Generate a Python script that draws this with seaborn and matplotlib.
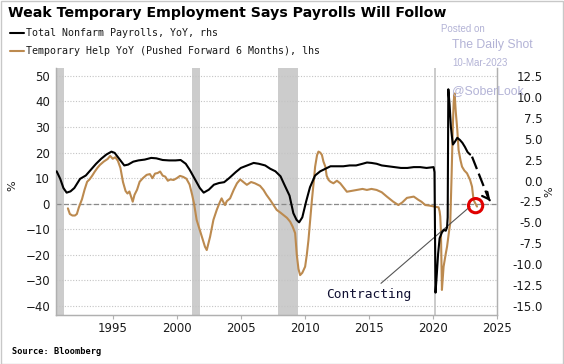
import pandas as pd
import matplotlib
matplotlib.use('Agg')
import matplotlib.pyplot as plt
import seaborn as sns
from matplotlib.lines import Line2D
from matplotlib.patches import Rectangle

# Total nonfarm payrolls, YoY % (right axis), decimal years
payroll_year = [1990.62, 1990.9, 1991.15, 1991.4, 1991.7, 1992.0, 1992.45, 1992.9, 1993.3, 1993.7,
                1994.1, 1994.5, 1994.9, 1995.15, 1995.5, 1995.9, 1996.2, 1996.6, 1997.0, 1997.5,
                1998.0, 1998.4, 1998.9, 1999.4, 1999.9, 2000.3, 2000.7, 2001.0, 2001.4, 2001.8,
                2002.1, 2002.5, 2002.9, 2003.3, 2003.7, 2004.1, 2004.6, 2005.0, 2005.5, 2006.0,
                2006.4, 2006.9, 2007.3, 2007.7, 2008.1, 2008.4, 2008.8, 2009.1, 2009.35, 2009.55,
                2009.8, 2010.1, 2010.4, 2010.8, 2011.2, 2011.6, 2012.0, 2012.5, 2013.0, 2013.5,
                2014.0, 2014.5, 2014.85, 2015.2, 2015.6, 2016.0, 2016.5, 2017.0, 2017.5, 2018.0,
                2018.5, 2019.0, 2019.5, 2020.05, 2020.12, 2020.2, 2020.3, 2020.4, 2020.52, 2020.7,
                2020.85, 2021.0, 2021.1, 2021.15, 2021.2, 2021.3, 2021.4, 2021.5, 2021.56, 2021.7,
                2021.9, 2022.1, 2022.3, 2022.5, 2022.7, 2022.9]
payroll_yoy = [1.1, 0.2, -0.9, -1.45, -1.3, -0.9, 0.2, 0.6, 1.3, 2.0,
               2.6, 3.1, 3.45, 3.3, 2.6, 1.8, 1.9, 2.25, 2.4, 2.5,
               2.7, 2.65, 2.45, 2.4, 2.4, 2.45, 2.0, 1.3, 0.2, -0.9,
               -1.45, -1.1, -0.5, -0.3, -0.2, 0.3, 1.0, 1.5, 1.8, 2.1,
               2.0, 1.8, 1.4, 1.1, 0.5, -0.5, -1.8, -3.9, -4.7, -5.0,
               -4.4, -2.5, -0.8, 0.6, 1.1, 1.4, 1.7, 1.7, 1.7, 1.8,
               1.8, 2.0, 2.15, 2.1, 2.0, 1.8, 1.7, 1.6, 1.5, 1.5,
               1.6, 1.6, 1.5, 1.6, 1.0, -13.4, -11.2, -8.8, -6.9, -6.2,
               -5.9, -6.0, -5.6, -4.4, 10.9, 9.0, 6.4, 5.0, 4.3, 4.6,
               5.1, 4.85, 4.5, 4.0, 3.4, 3.1]

# Temporary help YoY % pushed forward 6 months (left axis)
temp_year = [1991.5, 1991.65, 1991.85, 1992.05, 1992.2, 1992.35, 1992.6, 1992.8, 1993.0, 1993.2,
             1993.4, 1993.6, 1993.8, 1994.0, 1994.3, 1994.6, 1994.8, 1995.0, 1995.2, 1995.4,
             1995.6, 1995.8, 1996.0, 1996.15, 1996.3, 1996.45, 1996.56, 1996.7, 1996.9, 1997.1,
             1997.35, 1997.65, 1997.9, 1998.1, 1998.3, 1998.5, 1998.7, 1998.9, 1999.1, 1999.3,
             1999.5, 1999.75, 2000.0, 2000.25, 2000.5, 2000.75, 2001.0, 2001.2, 2001.35, 2001.55,
             2001.8, 2002.0, 2002.2, 2002.34, 2002.5, 2002.6, 2002.86, 2003.12, 2003.35, 2003.5,
             2003.65, 2003.77, 2003.9, 2004.16, 2004.45, 2004.7, 2004.95, 2005.2, 2005.47, 2005.8,
             2006.1, 2006.3, 2006.5, 2006.77, 2007.0, 2007.29, 2007.55, 2007.8, 2008.1, 2008.33,
             2008.6, 2008.85, 2009.05, 2009.24, 2009.37, 2009.5, 2009.63, 2009.8, 2010.02, 2010.15,
             2010.28, 2010.42, 2010.55, 2010.7, 2010.8, 2010.95, 2011.06, 2011.2, 2011.33, 2011.45,
             2011.6, 2011.7, 2011.85, 2012.0, 2012.23, 2012.5, 2012.76, 2013.0, 2013.28, 2013.6,
             2014.06, 2014.5, 2014.84, 2015.2, 2015.6, 2016.0, 2016.4, 2016.9, 2017.3, 2017.6,
             2017.97, 2018.3, 2018.5, 2018.87, 2019.1, 2019.4, 2019.7, 2019.92, 2020.2, 2020.44,
             2020.52, 2020.57, 2020.62, 2020.7, 2020.78, 2020.83, 2021.0, 2021.1, 2021.25, 2021.35,
             2021.45, 2021.55, 2021.62, 2021.69, 2021.78, 2021.9, 2022.0, 2022.15, 2022.27, 2022.45,
             2022.66, 2022.9, 2023.05, 2023.17, 2023.3, 2023.44]
temp_yoy = [-1.8, -4.0, -4.6, -4.6, -4.0, -1.5, 1.8, 5.5, 8.6, 9.6,
            11.0, 12.6, 14.0, 15.2, 16.5, 17.5, 18.7, 17.6, 18.2, 16.8,
            14.0, 8.5, 5.0, 4.0, 4.8, 2.5, 0.8, 3.5, 5.5, 8.6,
            10.0, 11.3, 11.6, 10.0, 11.8, 12.0, 12.6, 11.0, 10.6, 9.0,
            9.5, 9.3, 10.0, 10.9, 10.5, 9.8, 7.5, 3.5, 0.0, -6.3,
            -10.3, -13.5, -16.8, -18.1, -15.0, -12.9, -6.3, -2.4, 0.5, 2.1,
            0.5, -0.5, 1.0, 2.1, 5.5, 8.0, 9.5, 8.5, 7.4, 8.5,
            8.0, 7.5, 7.0, 5.4, 3.5, 1.5, -0.5, -2.4, -3.5, -4.4,
            -5.5, -7.0, -9.0, -11.5, -20.0, -25.5, -27.9, -27.0, -24.6, -20.0,
            -14.2, -6.0, 1.5, 9.0, 14.5, 19.0, 20.4, 20.0, 19.1, 16.5,
            14.5, 11.0, 9.3, 8.6, 8.0, 9.0, 8.0, 6.5, 4.7, 5.0,
            5.4, 5.8, 5.4, 5.8, 5.4, 4.5, 2.8, 0.8, -0.5, 0.5,
            2.3, 2.6, 2.8, 1.5, 0.8, -0.5, -0.7, -0.9, -1.2, -1.4,
            -3.0, -5.0, -10.3, -33.7, -28.0, -24.6, -19.5, -16.8, -11.0, -7.6,
            10.0, 30.0, 40.0, 43.1, 36.0, 28.9, 21.0, 17.0, 14.5, 13.0,
            11.9, 9.3, 6.7, 1.5, 0.2, -1.1]

recession_start = [1990.5, 2001.17, 2007.92, 2020.08]
recession_end = [1991.17, 2001.83, 2009.45, 2020.25]

payrolls = pd.DataFrame({'Year': payroll_year, 'YoY': payroll_yoy})
temps = pd.DataFrame({'Year': temp_year, 'YoY': temp_yoy})

BLACK = '#000000'
BROWN = '#bc8a4f'
WATERMARK = '#b3b3d6'

sns.set_style('white')
plt.rcParams['font.family'] = ['DejaVu Sans']

fig = plt.figure(figsize=(5.64, 3.64), dpi=100)
ax = fig.add_axes([56 / 564, 1 - 315 / 364, (497 - 56) / 564, (315 - 67.7) / 364])
ax2 = ax.twinx()

# recessions
for s, e in zip(recession_start, recession_end):
    ax.axvspan(s, e, color='#cccccc', lw=0, zorder=0)

ax.axhline(0, color='#8a8a8a', lw=0.9, ls=(0, (4, 2)), zorder=1)
sns.lineplot(data=temps, x='Year', y='YoY', ax=ax, color=BROWN, lw=1.5, zorder=3)
sns.lineplot(data=payrolls, x='Year', y='YoY', ax=ax2, color=BLACK, lw=1.5, zorder=3)

# left axis
ax.set_xlim(1990.57, 2025.0)
ax.set_ylim(-43.5, 53.2)
ax.set_yticks(range(-40, 51, 10))
ax.yaxis.grid(True, color='#c4c4c4', ls=(0, (1, 1.5)), lw=0.8)
ax.xaxis.grid(False)
ax.set_xticks(range(1995, 2026, 5))
ax.tick_params(axis='x', length=3, width=0.8, color='#b0b0b0', pad=2, labelsize=8.5, labelcolor='#1a1a1a',
               bottom=True)
ax.tick_params(axis='y', length=0, pad=4.3, labelsize=8.5, labelcolor='#1a1a1a')
ax.set_xlabel('')
ax.set_ylabel('')

# right axis: 12.5 lines up with 50, -15 with -40
ax2.set_ylim(12.5 + (-43.5 - 50) * 27.5 / 90, 12.5 + (53.2 - 50) * 27.5 / 90)
ax2.set_yticks([12.5, 10, 7.5, 5, 2.5, 0, -2.5, -5, -7.5, -10, -12.5, -15])
ax2.set_yticklabels(['%.1f' % v for v in ax2.get_yticks()])
ax2.tick_params(axis='y', length=0, pad=32.8, labelsize=8.5, labelcolor='#1a1a1a')
for lbl in ax2.get_yticklabels():
    lbl.set_horizontalalignment('right')
ax2.set_ylabel('')
ax2.grid(False)

for a in (ax, ax2):
    for side in ['left', 'right', 'bottom']:
        a.spines[side].set_color('#b0b0b0')
        a.spines[side].set_linewidth(0.9)
    a.spines['top'].set_visible(False)

# forecast arrow
ax2.plot([2023.05, 2024.35], [2.85, -2.2], color=BLACK, lw=1.6, ls=(0, (6, 2.2)), zorder=4)
ax2.annotate('', xy=(2024.62, -2.72), xytext=(2024.3, -2.1),
             arrowprops=dict(arrowstyle='->', color=BLACK, lw=1.6, mutation_scale=12), zorder=4)

# contracting callout
ax.annotate('Contracting', xy=(2022.9, -1.1), xytext=(2018.3, -35.3),
            ha='right', va='center', fontsize=9.3, family='DejaVu Sans Mono', color='#111133',
            arrowprops=dict(arrowstyle='-', color='#555555', lw=0.8, shrinkA=1, shrinkB=0))
ax.scatter([2023.33], [-0.74], s=105, facecolors='none', edgecolors='#e00000', linewidths=2.2, zorder=5)

# percent labels
fig.text(12 / 564, 1 - 186 / 364, '%', rotation=90, ha='center', va='center', fontsize=8, color='#1a1a1a')
fig.text(549 / 564, 1 - 192 / 364, '%', rotation=90, ha='center', va='center', fontsize=8, color='#1a1a1a')

# title and legend
fig.text(8 / 564, 1 - 13 / 364, 'Weak Temporary Employment Says Payrolls Will Follow',
         fontsize=10.2, fontweight='bold', ha='left', va='center', color='#000000')
fig.add_artist(Line2D([10 / 564, 24 / 564], [1 - 33 / 364] * 2, color=BLACK, lw=1.5))
fig.add_artist(Line2D([10 / 564, 24 / 564], [1 - 51 / 364] * 2, color=BROWN, lw=1.5))
fig.text(26 / 564, 1 - 33 / 364, 'Total Nonfarm Payrolls, YoY, rhs', family='DejaVu Sans Mono',
         fontsize=7.2, ha='left', va='center', color='#1a1a1a')
fig.text(26 / 564, 1 - 51 / 364, 'Temporary Help YoY (Pushed Forward 6 Months), lhs', family='DejaVu Sans Mono',
         fontsize=7.2, ha='left', va='center', color='#1a1a1a')

# watermark
fig.text(441 / 564, 1 - 29 / 364, 'Posted on', family='Liberation Sans', fontsize=7, color=WATERMARK,
         ha='left', va='center')
fig.text(452 / 564, 1 - 45 / 364, 'The Daily Shot', family='Liberation Sans', fontsize=8.8, color=WATERMARK,
         ha='left', va='center')
fig.text(452 / 564, 1 - 63 / 364, '10-Mar-2023', family='Liberation Sans', fontsize=7, color=WATERMARK,
         ha='left', va='center')
fig.text(452 / 564, 1 - 91 / 364, '@SoberLook', family='Liberation Sans', fontsize=8.8, color=WATERMARK,
         ha='left', va='center', zorder=10)

fig.text(12 / 564, 1 - 352 / 364, 'Source: Bloomberg', family='DejaVu Sans Mono', fontweight='bold',
         fontsize=6.2, ha='left', va='center', color='#000000')

fig.add_artist(Rectangle((0.001, 0.001), 0.997, 0.996, transform=fig.transFigure, fill=False,
                         edgecolor='#c8c8c8', lw=1))

fig.savefig('out.png', dpi=100)
